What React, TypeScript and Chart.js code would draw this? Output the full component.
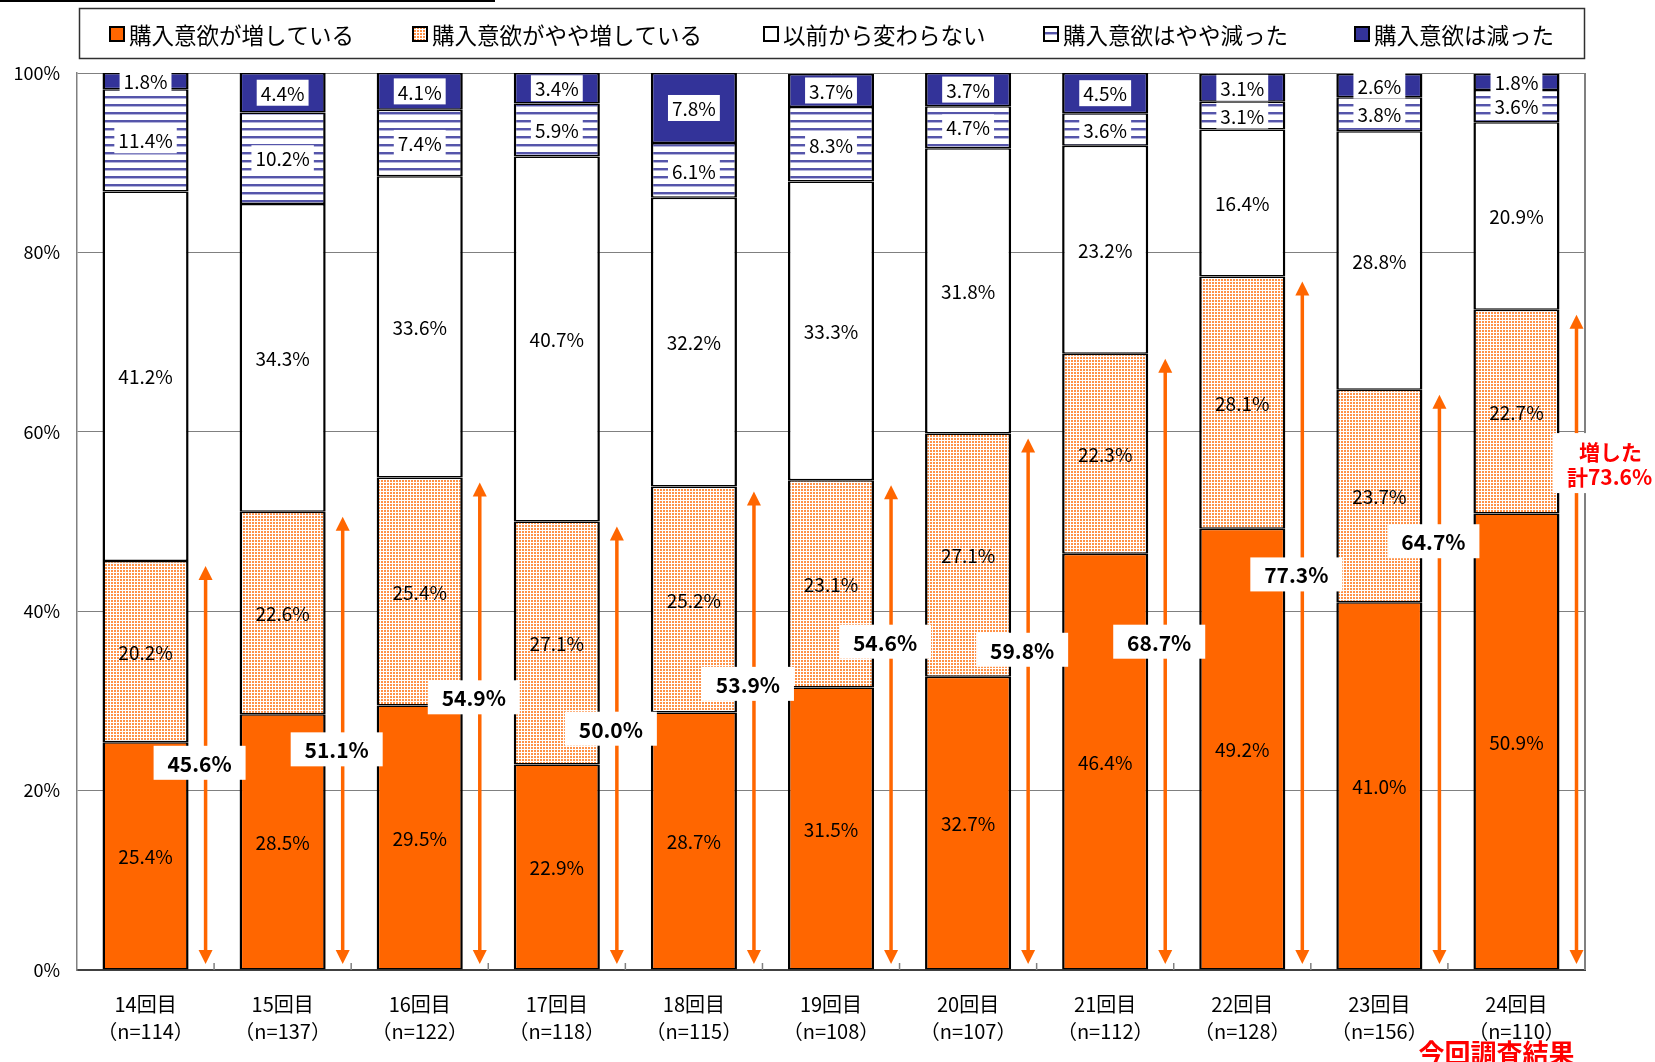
import React, { useEffect, useRef } from 'react';
import { Chart, registerables } from 'chart.js';

Chart.register(...registerables);

// ---------------- data ----------------
const rounds = ['14回目', '15回目', '16回目', '17回目', '18回目', '19回目', '20回目', '21回目', '22回目', '23回目', '24回目'];
const sampleSizes = [114, 137, 122, 118, 115, 108, 107, 112, 128, 156, 110];
const seriesNames = ['購入意欲が増している', '購入意欲がやや増している', '以前から変わらない', '購入意欲はやや減った', '購入意欲は減った'];
const increased = [25.4, 28.5, 29.5, 22.9, 28.7, 31.5, 32.7, 46.4, 49.2, 41.0, 50.9];
const slightlyIncreased = [20.2, 22.6, 25.4, 27.1, 25.2, 23.1, 27.1, 22.3, 28.1, 23.7, 22.7];
const unchanged = [41.2, 34.3, 33.6, 40.7, 32.2, 33.3, 31.8, 23.2, 16.4, 28.8, 20.9];
const slightlyDecreased = [11.4, 10.2, 7.4, 5.9, 6.1, 8.3, 4.7, 3.6, 3.1, 3.8, 3.6];
const decreased = [1.8, 4.4, 4.1, 3.4, 7.8, 3.7, 3.7, 4.5, 3.1, 2.6, 1.8];
const increasedTotals = [45.6, 51.1, 54.9, 50.0, 53.9, 54.6, 59.8, 68.7, 77.3, 64.7, 73.6];
// level (in %) at which each total label sits
const totalLabelLevels = [23.1, 24.6, 30.4, 26.9, 31.9, 36.6, 35.7, 36.6, 44.1, 47.8, 56.4];
const currentTotalPrefix = '増した';
const currentTotalWord = '計';
const currentRoundNote = '今回調査結果';

// ---------------- styles ----------------
const FONT = "'Noto Sans CJK JP', 'Noto Sans', sans-serif";
const ORANGE = '#FF6600';
const NAVY = '#333399';
const RED = '#FF0000';
const legendMarkerX = [110, 413, 764, 1044, 1355];

function makeDotPattern(ctx: CanvasRenderingContext2D) {
  const c = document.createElement('canvas');
  c.width = 3;
  c.height = 3;
  const g = c.getContext('2d')!;
  g.fillStyle = '#FFFFFF';
  g.fillRect(0, 0, 3, 3);
  g.fillStyle = '#FF9248';
  g.fillRect(0, 0, 2, 2);
  return ctx.createPattern(c, 'repeat')!;
}

function makeStripePattern(ctx: CanvasRenderingContext2D) {
  const c = document.createElement('canvas');
  c.width = 4;
  c.height = 8;
  const g = c.getContext('2d')!;
  g.fillStyle = '#FFFFFF';
  g.fillRect(0, 0, 4, 8);
  g.fillStyle = '#5555AA';
  g.fillRect(0, 0, 4, 2);
  g.fillStyle = '#B4B4DC';
  g.fillRect(0, 2, 4, 1);
  return ctx.createPattern(c, 'repeat')!;
}

export default function App() {
  const ref = useRef<HTMLCanvasElement>(null);

  useEffect(() => {
    document.body.style.margin = '0';
    const canvas = ref.current!;
    const ctx0 = canvas.getContext('2d')!;
    const dotPat = makeDotPattern(ctx0);
    const stripePat = makeStripePattern(ctx0);
    const fills: (string | CanvasPattern)[] = [ORANGE, dotPat, '#FFFFFF', stripePat, NAVY];

    const overlay = {
      id: 'overlay',
      afterDatasetsDraw(chart: any) {
        const ctx: CanvasRenderingContext2D = chart.ctx;
        const area = chart.chartArea;
        const ys = chart.scales.y;
        ctx.save();

        // right border
        ctx.strokeStyle = '#808080';
        ctx.lineWidth = 2;
        ctx.beginPath();
        ctx.moveTo(area.right, area.top);
        ctx.lineTo(area.right, area.bottom);
        ctx.stroke();

        // inner tick marks on the category axis
        const xs = chart.scales.x;
        ctx.strokeStyle = '#808080';
        ctx.lineWidth = 1.5;
        for (let j = 1; j < rounds.length; j++) {
          const bx = (xs.getPixelForValue(j - 1) + xs.getPixelForValue(j)) / 2;
          ctx.beginPath();
          ctx.moveTo(bx, area.bottom);
          ctx.lineTo(bx, area.bottom - 7);
          ctx.stroke();
        }

        // segment labels
        ctx.textAlign = 'center';
        ctx.textBaseline = 'middle';
        ctx.font = `19px ${FONT}`;
        chart.data.datasets.forEach((ds: any, di: number) => {
          const meta = chart.getDatasetMeta(di);
          meta.data.forEach((el: any, j: number) => {
            const v = ds.data[j] as number;
            const cy = (el.y + el.base) / 2;
            const txt = v.toFixed(1) + '%';
            if (di >= 3) {
              const w = ctx.measureText(txt).width + 8;
              ctx.fillStyle = '#FFFFFF';
              ctx.fillRect(el.x - w / 2, cy - 13, w, 26);
            }
            ctx.fillStyle = '#000000';
            ctx.fillText(txt, el.x, cy + 1);
          });
        });

        // arrows for "increased" totals
        const meta0 = chart.getDatasetMeta(0);
        const arrowXs: number[] = [];
        meta0.data.forEach((el: any, j: number) => {
          const ax = el.x + el.width / 2 + 17;
          arrowXs.push(ax);
          const top = ys.getPixelForValue(increasedTotals[j]) + 5;
          const bot = ys.getPixelForValue(0) - 6;
          const head = 14;
          const hw = 7;
          ctx.strokeStyle = ORANGE;
          ctx.fillStyle = ORANGE;
          ctx.lineWidth = 3.5;
          ctx.beginPath();
          ctx.moveTo(ax, top + head - 1);
          ctx.lineTo(ax, bot - head + 1);
          ctx.stroke();
          ctx.beginPath();
          ctx.moveTo(ax, top);
          ctx.lineTo(ax - hw, top + head);
          ctx.lineTo(ax + hw, top + head);
          ctx.closePath();
          ctx.fill();
          ctx.beginPath();
          ctx.moveTo(ax, bot);
          ctx.lineTo(ax - hw, bot - head);
          ctx.lineTo(ax + hw, bot - head);
          ctx.closePath();
          ctx.fill();
        });

        // total labels
        const last = rounds.length - 1;
        increasedTotals.forEach((t, j) => {
          const cy = ys.getPixelForValue(totalLabelLevels[j]);
          const ax = arrowXs[j];
          const txt = t.toFixed(1) + '%';
          if (j === last) {
            ctx.fillStyle = '#FFFFFF';
            ctx.fillRect(ax - 24, cy - 31, 110, 60);
            ctx.fillStyle = RED;
            ctx.font = `bold 21px ${FONT}`;
            ctx.textAlign = 'center';
            ctx.fillText(currentTotalPrefix, ax + 34, cy - 12);
            ctx.fillText(currentTotalWord + txt, ax + 33, cy + 13);
          } else {
            const bx = ax - 6;
            ctx.fillStyle = '#FFFFFF';
            ctx.fillRect(bx - 46, cy - 17, 92, 34);
            ctx.fillStyle = '#000000';
            ctx.font = `bold 21px ${FONT}`;
            ctx.textAlign = 'center';
            ctx.fillText(txt, bx, cy + 1);
          }
        });

        ctx.restore();
      },
      afterDraw(chart: any) {
        const ctx: CanvasRenderingContext2D = chart.ctx;
        ctx.save();
        // stray top line
        ctx.fillStyle = '#000000';
        ctx.fillRect(0, 0, 495, 2);

        // legend box
        ctx.strokeStyle = '#303030';
        ctx.lineWidth = 1.5;
        ctx.strokeRect(79.5, 8.5, 1505, 50);
        ctx.font = `22.5px ${FONT}`;
        ctx.textAlign = 'left';
        ctx.textBaseline = 'middle';
        seriesNames.forEach((name, i) => {
          const mx = legendMarkerX[i];
          const my = 34;
          ctx.fillStyle = fills[i] as any;
          ctx.fillRect(mx, my - 7, 14, 14);
          ctx.strokeStyle = '#000000';
          ctx.lineWidth = 2;
          ctx.strokeRect(mx, my - 7, 14, 14);
          ctx.fillStyle = '#000000';
          ctx.fillText(name, mx + 19, my + 1);
        });

        // current round note
        const xs = chart.scales.x;
        ctx.fillStyle = RED;
        ctx.font = `bold 26px ${FONT}`;
        ctx.textAlign = 'center';
        ctx.fillText(currentRoundNote, xs.getPixelForValue(rounds.length - 1) - 20, 1053);
        ctx.restore();
      },
    };

    const barCommon = {
      borderColor: '#000000',
      borderWidth: { top: 1.5, bottom: 1.5, left: 2.5, right: 2.5 },
      borderSkipped: false as const,
      barPercentage: 0.628,
      categoryPercentage: 1,
    };

    const chart = new Chart(canvas, {
      type: 'bar',
      data: {
        labels: rounds,
        datasets: [
          { label: seriesNames[0], data: increased, backgroundColor: fills[0], ...barCommon },
          { label: seriesNames[1], data: slightlyIncreased, backgroundColor: fills[1], ...barCommon },
          { label: seriesNames[2], data: unchanged, backgroundColor: fills[2], ...barCommon },
          { label: seriesNames[3], data: slightlyDecreased, backgroundColor: fills[3], ...barCommon },
          { label: seriesNames[4], data: decreased, backgroundColor: fills[4], ...barCommon },
        ] as any,
      },
      options: {
        responsive: false,
        animation: false,
        devicePixelRatio: 1,
        layout: { padding: { top: 73, left: 0, right: 70, bottom: 0 } },
        plugins: {
          legend: { display: false },
          tooltip: { enabled: false },
        },
        scales: {
          x: {
            stacked: true,
            grid: { display: false, drawTicks: false },
            border: { display: true, color: '#404040', width: 2 },
            ticks: {
              color: '#000000',
              font: { family: FONT, size: 20, lineHeight: 1.35 },
              padding: 21,
              maxRotation: 0,
              autoSkip: false,
              callback: (_v: any, i: number) => [rounds[i], `（n=${sampleSizes[i]}）`],
            },
            afterFit: (s: any) => {
              s.height = 92;
            },
          },
          y: {
            stacked: true,
            min: 0,
            max: 100,
            grid: { color: '#808080', lineWidth: 1, drawTicks: false },
            border: { display: true, color: '#808080', width: 1.5 },
            ticks: {
              stepSize: 20,
              color: '#000000',
              font: { family: FONT, size: 18 },
              padding: 17,
              callback: (v: any) => `${v}%`,
            },
            afterFit: (s: any) => {
              s.width = 77;
            },
          },
        },
      } as any,
      plugins: [overlay],
    });

    return () => chart.destroy();
  }, []);

  return <canvas ref={ref} width={1655} height={1062} style={{ display: 'block', width: 1655, height: 1062 }} />;
}
